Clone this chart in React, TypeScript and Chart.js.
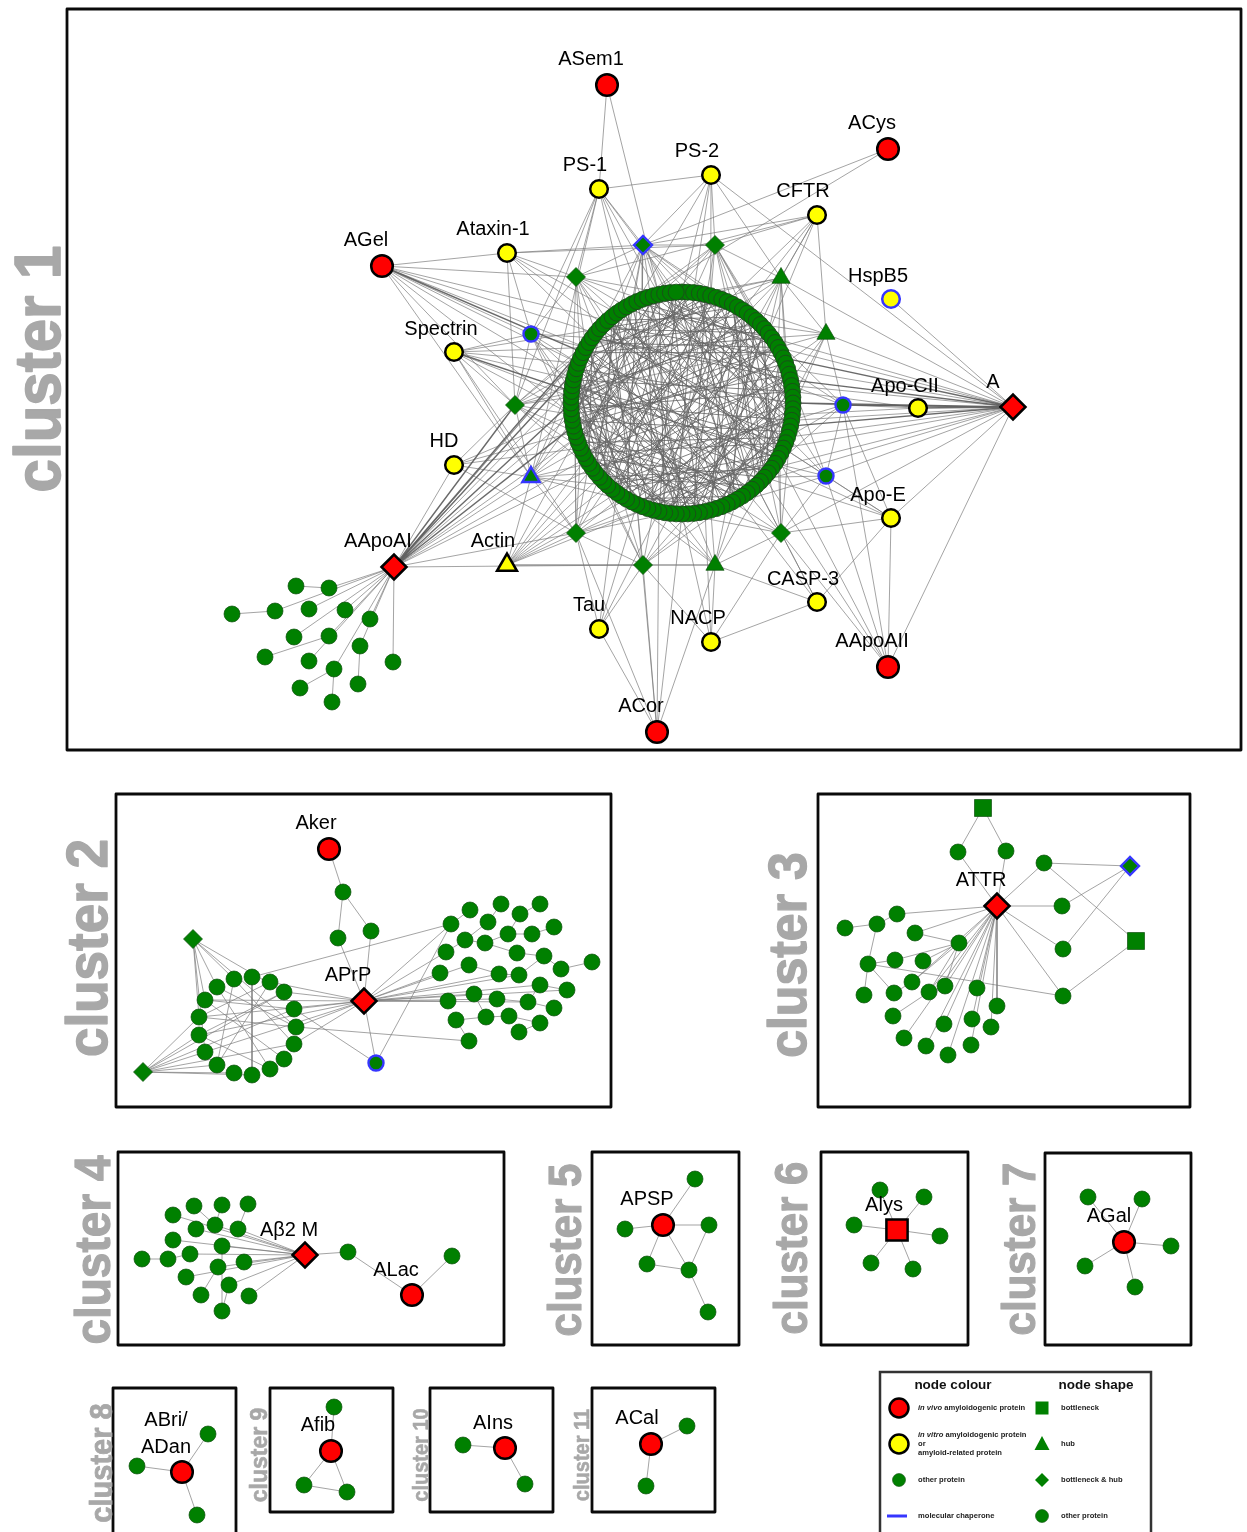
import React, { useEffect, useRef } from 'react';
import { Chart, registerables } from 'chart.js';

Chart.register(...registerables);

const PAGE_W = 1247;
const PAGE_H = 1532;

type NodeRow = [string, number, number, string];
type Fan = [string, (string | number)[]];
type Label = [string, number, number];

// ================= cluster 1 =================
// green ring (Cytoscape circular layout): node count, centre, radius
const ringCount = 120;
const ringCenter: [number, number] = [682, 403];
const ringRadius = 111;

const cluster1Nodes: NodeRow[] = [
  ['ASem1', 607, 85, 'vivo'],
  ['ACys', 888, 149, 'vivo'],
  ['AGel', 382, 266, 'vivo'],
  ['AApoAII', 888, 667, 'vivo'],
  ['ACor', 657, 732, 'vivo'],
  ['A', 1013, 407, 'vivoD'],
  ['AApoAI', 394, 567, 'vivoD'],
  ['PS1', 599, 189, 'vitro'],
  ['PS2', 711, 175, 'vitro'],
  ['CFTR', 817, 215, 'vitro'],
  ['Ataxin1', 507, 253, 'vitro'],
  ['HspB5', 891, 299, 'vitroB'],
  ['Spectrin', 454, 352, 'vitro'],
  ['ApoCII', 918, 408, 'vitro'],
  ['HD', 454, 465, 'vitro'],
  ['ApoE', 891, 518, 'vitro'],
  ['CASP3', 817, 602, 'vitro'],
  ['Tau', 599, 629, 'vitro'],
  ['NACP', 711, 642, 'vitro'],
  ['Actin', 507, 565, 'vitroT'],
  ['d1', 643, 245, 'gDB'],
  ['d2', 715, 245, 'gD'],
  ['d3', 576, 277, 'gD'],
  ['t1', 781, 278, 'gT'],
  ['c1', 531, 334, 'gB'],
  ['t2', 826, 334, 'gT'],
  ['d4', 515, 405, 'gD'],
  ['c2', 843, 405, 'gB'],
  ['t3', 531, 477, 'gTB'],
  ['c3', 826, 476, 'gB'],
  ['d5', 576, 533, 'gD'],
  ['d6', 781, 533, 'gD'],
  ['d7', 643, 565, 'gD'],
  ['t4', 715, 565, 'gT'],
  ['b1', 296, 586, 'g'],
  ['b2', 329, 588, 'g'],
  ['b3', 232, 614, 'g'],
  ['b4', 275, 611, 'g'],
  ['b5', 309, 609, 'g'],
  ['b6', 345, 610, 'g'],
  ['b7', 370, 619, 'g'],
  ['b8', 294, 637, 'g'],
  ['b9', 329, 636, 'g'],
  ['b10', 360, 646, 'g'],
  ['b11', 265, 657, 'g'],
  ['b12', 309, 661, 'g'],
  ['b13', 334, 669, 'g'],
  ['b14', 393, 662, 'g'],
  ['b15', 300, 688, 'g'],
  ['b16', 358, 684, 'g'],
  ['b17', 332, 702, 'g'],
];

// numbers = index of a ring node
const cluster1Fans: Fan[] = [
  ['ASem1', ['PS1', 116]],
  ['ACys', ['d1', 110]],
  ['AGel', ['Ataxin1', 'd3', 'c1', 'd4', 't3', 97, 100, 103, 106, 94, 88]],
  ['PS1', ['PS2', 'd1', 'd3', 'c1', 'd4', 't3', 110, 113, 116, 119]],
  ['PS2', ['d1', 'd2', 't1', 'A', 0, 2, 5, 112]],
  ['CFTR', ['d2', 't1', 't2', 'd1', 'd3', 8, 11, 14, 17]],
  ['Ataxin1', ['d1', 'd2', 'd3', 'c1', 'd4', 102, 105, 108]],
  ['HspB5', ['A']],
  ['Spectrin', ['c1', 'd4', 't3', 'd5', 88, 91, 94, 97, 100, 104]],
  ['ApoCII', ['c2', 28, 32]],
  ['HD', ['t3', 'd4', 'd5', 82, 85, 88]],
  ['ApoE', ['c3', 'A', 'AApoAII', 'd6', 'c2', 'CASP3', 38, 41, 44]],
  ['CASP3', ['d6', 't4', 'NACP', 46, 50]],
  ['Tau', ['d5', 'd7', 64, 68, 72]],
  ['NACP', ['t4', 'd7', 'd6', 56, 60]],
  ['AApoAII', ['c3', 'A', 'd6', 'c2', 40, 44]],
  ['ACor', ['d7', 'd5', 't4', 'Tau', 60, 64, 68]],
  ['AApoAI', ['t3', 'd5', 'd7', 'HD', 78, 80, 84, 88, 93, 100, 108]],
  ['AApoAI', ['b2', 'b4', 'b5', 'b6', 'b7', 'b8', 'b9', 'b10', 'b12', 'b13', 'b14']],
  ['b1', ['b2']], ['b3', ['b4']], ['b11', ['b9']], ['b15', ['b13']], ['b16', ['b10']], ['b17', ['b13']],
  ['Actin', ['d5', 't3', 'd7', 't4', 66, 70, 72, 74, 76, 78, 80, 84]],
  ['A', ['c2', 't2', 'c3', 'd6', 't1', 24, 27, 33, 36, 38, 42, 20, 18, 45]],
  ['d1', ['d2', 'd3', 108, 111, 113, 116, 118, 1, 3, 6, 9, 95, 60, 45, 75]],
  ['d2', ['t1', 112, 116, 119, 2, 5, 8, 11, 14, 18, 25, 40, 62]],
  ['d3', ['c1', 100, 103, 105, 108, 110, 113, 117, 90, 80, 50]],
  ['t1', ['t2', 4, 7, 10, 12, 15, 17, 20, 24, 110, 35]],
  ['c1', ['d4', 92, 95, 97, 100, 102, 85, 70]],
  ['t2', ['c2', 15, 18, 20, 23, 26, 29, 8, 45]],
  ['d4', ['t3', 82, 85, 88, 91, 93, 96, 100, 70, 110, 20]],
  ['c2', ['c3', 24, 27, 30, 33, 36, 15, 50]],
  ['t3', ['d5', 74, 77, 79, 82, 84, 87, 90, 60, 100]],
  ['c3', ['d6', 33, 36, 38, 41, 44, 25, 55]],
  ['d5', ['d7', 66, 68, 71, 74, 76, 79, 82, 85, 50, 95]],
  ['d6', ['t4', 40, 43, 46, 48, 51, 54, 30, 60, 20]],
  ['d7', ['t4', 56, 59, 62, 65, 68, 71, 75, 45, 85]],
  ['t4', [50, 52, 55, 58, 61, 64, 40, 70]],
];

const cluster1HeavyFans: Fan[] = [
  ['A', ['ApoCII', 30, 26, 34, 22, 'c2']],
  ['AApoAI', ['d4', 90, 96, 86, 104]],
  ['AGel', [99]],
  ['Spectrin', [92]],
];

// chords inside the ring, as pairs of ring indices
const ringChords: number[] = [
  0, 47, 1, 83, 2, 61, 3, 29, 4, 95, 5, 72, 6, 38, 7, 101, 8, 55, 9, 66,
  10, 88, 11, 34, 12, 79, 13, 106, 14, 52, 15, 91, 16, 43, 17, 70, 18, 110, 19, 58,
  20, 84, 21, 99, 22, 63, 23, 45, 24, 117, 25, 77, 26, 102, 27, 54, 28, 89, 29, 68,
  30, 96, 31, 8, 32, 74, 33, 113, 34, 60, 35, 87, 36, 2, 37, 81, 38, 104, 39, 66,
  40, 93, 41, 15, 42, 76, 43, 118, 44, 57, 45, 98, 46, 21, 47, 85, 48, 109, 49, 70,
  50, 92, 51, 11, 52, 80, 53, 114, 54, 97, 55, 31, 56, 88, 57, 103, 58, 6, 59, 79,
  60, 100, 61, 26, 62, 91, 63, 116, 64, 37, 65, 83, 66, 108, 67, 14, 68, 95, 69, 41,
  70, 112, 71, 53, 72, 1, 73, 97, 74, 19, 75, 107, 76, 46, 77, 119, 78, 30, 79, 102,
  80, 12, 81, 59, 82, 115, 83, 36, 84, 4, 85, 62, 86, 23, 87, 111, 88, 48, 89, 9,
  90, 33, 91, 67, 92, 17, 93, 52, 94, 28, 95, 75, 96, 40, 97, 5, 98, 64, 99, 18,
  100, 44, 101, 71, 102, 25, 103, 58, 104, 10, 105, 86, 106, 35, 107, 69, 108, 3, 109, 50,
  110, 27, 111, 78, 112, 42, 113, 7, 114, 65, 115, 20, 116, 90, 117, 49, 118, 13, 119, 73,
  3, 51, 7, 64, 12, 40, 18, 86, 22, 105, 27, 69, 33, 78, 39, 92, 44, 11, 49, 100,
  56, 16, 61, 110, 67, 32, 72, 94, 82, 49, 87, 20, 93, 6, 99, 56, 105, 39, 111, 59,
  116, 29, 2, 90, 9, 46, 15, 72, 24, 61, 36, 98, 48, 84, 57, 118, 65, 25, 76, 8,
  4, 58, 8, 99, 13, 71, 17, 104, 21, 66, 26, 81, 30, 115, 35, 62, 40, 107, 43, 90,
  47, 3, 51, 96, 55, 10, 59, 112, 63, 28, 68, 5, 73, 41, 77, 108, 81, 22, 86, 54,
  90, 14, 94, 47, 98, 70, 103, 35, 107, 60, 112, 19, 117, 83, 1, 38, 6, 75, 11, 92,
  16, 57, 20, 101, 25, 88, 29, 50, 34, 114, 39, 74, 45, 9, 50, 119, 54, 26, 58, 93,
  62, 12, 67, 105, 71, 31, 75, 116, 80, 44, 84, 2, 89, 61, 93, 37, 97, 78, 101, 15,
  106, 52, 110, 87, 114, 32, 119, 64,
];

const cluster1Labels: Label[] = [
  ['ASem1', 591, 59], ['ACys', 872, 123], ['AGel', 366, 240], ['PS-1', 585, 165],
  ['PS-2', 697, 151], ['CFTR', 803, 191], ['Ataxin-1', 493, 229], ['HspB5', 878, 276],
  ['Spectrin', 441, 329], ['Apo-CII', 905, 386], ['A', 993, 382], ['HD', 444, 441],
  ['Apo-E', 878, 495], ['AApoAI', 378, 541], ['Actin', 493, 541], ['CASP-3', 803, 579],
  ['Tau', 589, 605], ['NACP', 698, 618], ['AApoAII', 872, 641], ['ACor', 641, 706],
];

// ================= cluster 2 =================
const cluster2Nodes: NodeRow[] = [
  ['Aker', 329, 849, 'vivo'],
  ['APrP', 364, 1001, 'vivoD'],
  ['k1', 343, 892, 'g'], ['k2', 338, 938, 'g'], ['k3', 371, 931, 'g'],
  ['q1', 193, 939, 'gD'], ['q2', 143, 1072, 'gD'],
  ['bc', 376, 1063, 'gB'],
];
const cluster2Loop: [number, number][] = [
  [217, 987], [234, 979], [252, 977], [270, 982], [284, 992], [294, 1009], [296, 1027],
  [294, 1044], [284, 1059], [270, 1069], [252, 1075], [234, 1073], [217, 1065], [205, 1052],
  [199, 1035], [199, 1017], [205, 1000],
];
const cluster2Right: [number, number][] = [
  [470, 910], [501, 904], [540, 904], [520, 914], [488, 922], [451, 924], [554, 927],
  [465, 940], [485, 943], [508, 934], [532, 934], [446, 952], [517, 953], [544, 956],
  [469, 965], [440, 973], [499, 974], [519, 975], [561, 969], [592, 962], [540, 985],
  [567, 990], [474, 994], [448, 1001], [497, 999], [528, 1002], [554, 1008], [486, 1017],
  [509, 1016], [456, 1020], [540, 1023], [519, 1032], [469, 1041],
];
const cluster2Fans: Fan[] = [
  ['Aker', ['k1']], ['k1', ['k2', 'k3']], ['k2', ['APrP']], ['k3', ['APrP']],
  ['APrP', ['L3', 'L4', 'L5', 'L6', 'L7', 'L14', 'L15', 'L16', 'L13', 'bc',
    'R15', 'R11', 'R14', 'R22', 'R23', 'R24', 'R25', 'R20', 'R21', 'R16', 'R17', 'R5']],
  ['bc', ['R5', 'L5']],
  ['q1', ['L0', 'L16', 'L15', 'L1', 'L4', 'L6', 'L13']],
  ['q2', ['L13', 'L12', 'L14', 'L15', 'L11', 'L10', 'L5', 'L7', 'L4']],
  ['L2', ['L10', 'R5']], ['L0', ['L9', 'L6']], ['L1', ['L7', 'L12']], ['L16', ['L5', 'L8']],
  ['L15', ['L6', 'L3']], ['L14', ['L4', 'L9']], ['L3', ['L12']], ['L6', ['R32']],
  ['R0', ['R5']], ['R1', ['R4']], ['R4', ['R7']], ['R2', ['R3']], ['R3', ['R9']], ['R9', ['R8']],
  ['R8', ['R7']], ['R7', ['R11']], ['R6', ['R10']], ['R10', ['R9']], ['R12', ['R8']],
  ['R13', ['R12', 'R17']], ['R18', ['R13']], ['R19', ['R18']], ['R17', ['R16']], ['R16', ['R14']],
  ['R21', ['R20']], ['R20', ['R25']], ['R25', ['R24']], ['R26', ['R25']], ['R28', ['R27']],
  ['R27', ['R22']], ['R29', ['R27']], ['R30', ['R28']], ['R31', ['R30']], ['R32', ['R29']],
];
const cluster2Labels: Label[] = [['Aker', 316, 823], ['APrP', 348, 975]];

// ================= cluster 3 =================
const cluster3Nodes: NodeRow[] = [
  ['ATTR', 997, 906, 'vivoD'],
  ['s3a', 983, 808, 'gS'], ['s3b', 1136, 941, 'gS'], ['bd3', 1130, 866, 'gDB'],
  ['u1', 958, 852, 'g'], ['u2', 1006, 851, 'g'], ['u3', 1044, 863, 'g'], ['u4', 1062, 906, 'g'],
  ['u5', 1063, 949, 'g'], ['u6', 1063, 996, 'g'],
  ['v1', 897, 914, 'g'], ['v2', 877, 924, 'g'], ['v3', 845, 928, 'g'], ['v4', 915, 933, 'g'],
  ['v5', 959, 943, 'g'], ['v6', 895, 960, 'g'], ['v7', 923, 961, 'g'], ['v8', 868, 964, 'g'],
  ['v9', 912, 982, 'g'], ['v10', 945, 986, 'g'], ['v11', 929, 992, 'g'], ['v12', 977, 988, 'g'],
  ['v13', 864, 995, 'g'], ['v14', 894, 993, 'g'], ['v15', 997, 1006, 'g'], ['v16', 893, 1016, 'g'],
  ['v17', 944, 1024, 'g'], ['v18', 972, 1019, 'g'], ['v19', 991, 1027, 'g'], ['v20', 904, 1038, 'g'],
  ['v21', 926, 1046, 'g'], ['v22', 971, 1045, 'g'], ['v23', 948, 1055, 'g'],
];
const cluster3Fans: Fan[] = [
  ['s3a', ['u1', 'u2']], ['u1', ['ATTR']], ['u2', ['ATTR']],
  ['ATTR', ['u3', 'u4', 'u5', 'u6', 'v1', 'v4', 'v5', 'v9', 'v10', 'v11', 'v12', 'v15', 'v17',
    'v18', 'v19', 'v20', 'v21', 'v22', 'v23']],
  ['u3', ['bd3', 's3b']], ['u4', ['bd3']], ['u5', ['bd3']], ['u6', ['s3b']],
  ['v2', ['v1', 'v8']], ['v3', ['v2']], ['v4', ['v5']], ['v8', ['v6', 'v13', 'v14', 'u6']],
  ['v5', ['v6', 'v7', 'v9', 'v10', 'v11']], ['v16', ['v11']], ['v14', ['v9']],
];
const cluster3Labels: Label[] = [['ATTR', 981, 880]];

// ================= cluster 4 =================
const cluster4Nodes: NodeRow[] = [
  ['Ab2M', 305, 1255, 'vivoD'], ['ALac', 412, 1295, 'vivo'],
  ['w0', 348, 1252, 'g'], ['w1', 452, 1256, 'g'],
  ['p1', 194, 1206, 'g'], ['p2', 222, 1205, 'g'], ['p3', 248, 1204, 'g'], ['p4', 173, 1215, 'g'],
  ['p5', 196, 1229, 'g'], ['p6', 215, 1225, 'g'], ['p7', 238, 1229, 'g'], ['p8', 173, 1240, 'g'],
  ['p9', 190, 1254, 'g'], ['p10', 222, 1246, 'g'], ['p11', 142, 1259, 'g'], ['p12', 168, 1259, 'g'],
  ['p13', 244, 1262, 'g'], ['p14', 218, 1267, 'g'], ['p15', 186, 1277, 'g'], ['p16', 229, 1285, 'g'],
  ['p17', 201, 1295, 'g'], ['p18', 249, 1296, 'g'], ['p19', 222, 1311, 'g'],
];
const cluster4Fans: Fan[] = [
  ['Ab2M', ['w0', 'p4', 'p5', 'p6', 'p7', 'p8', 'p9', 'p10', 'p13', 'p14', 'p15', 'p16', 'p18']],
  ['w0', ['ALac']], ['ALac', ['w1']], ['p11', ['p12']], ['p12', ['p9']], ['p1', ['p6']],
  ['p2', ['p6']], ['p3', ['p7']], ['p17', ['p14']], ['p19', ['p16', 'p10']],
];
const cluster4Labels: Label[] = [['A\u03b22 M', 289, 1230], ['ALac', 396, 1270]];

// ================= clusters 5 - 11 =================
const smallClusterNodes: NodeRow[] = [
  ['APSP', 663, 1225, 'vivo'], ['e1', 695, 1179, 'g'], ['e2', 625, 1229, 'g'], ['e3', 709, 1225, 'g'],
  ['e4', 647, 1264, 'g'], ['e5', 689, 1270, 'g'], ['e6', 708, 1312, 'g'],
  ['Alys', 897, 1230, 'vivoS'], ['f1', 880, 1190, 'g'], ['f2', 924, 1197, 'g'], ['f3', 854, 1225, 'g'],
  ['f4', 940, 1236, 'g'], ['f5', 871, 1263, 'g'], ['f6', 913, 1269, 'g'],
  ['AGal', 1124, 1242, 'vivo'], ['h1', 1088, 1197, 'g'], ['h2', 1142, 1199, 'g'], ['h3', 1171, 1246, 'g'],
  ['h4', 1085, 1266, 'g'], ['h5', 1135, 1287, 'g'],
  ['ABri', 182, 1472, 'vivo'], ['i1', 208, 1434, 'g'], ['i2', 137, 1466, 'g'], ['i3', 197, 1515, 'g'],
  ['Afib', 331, 1451, 'vivo'], ['j1', 334, 1407, 'g'], ['j2', 304, 1485, 'g'], ['j3', 347, 1492, 'g'],
  ['AIns', 505, 1448, 'vivo'], ['m1', 463, 1445, 'g'], ['m2', 525, 1484, 'g'],
  ['ACal', 651, 1444, 'vivo'], ['n1', 687, 1426, 'g'], ['n2', 646, 1486, 'g'],
];
const smallClusterFans: Fan[] = [
  ['APSP', ['e1', 'e2', 'e3', 'e4', 'e5']], ['e3', ['e5']], ['e4', ['e5']], ['e5', ['e6']],
  ['Alys', ['f1', 'f2', 'f3', 'f4', 'f5', 'f6']],
  ['AGal', ['h1', 'h2', 'h3', 'h4', 'h5']],
  ['ABri', ['i1', 'i2', 'i3']],
  ['Afib', ['j1', 'j2', 'j3']], ['j2', ['j3']],
  ['AIns', ['m1', 'm2']],
  ['ACal', ['n1', 'n2']],
];
const smallClusterLabels: Label[] = [
  ['APSP', 647, 1199], ['Alys', 884, 1205], ['AGal', 1109, 1216], ['ABri/', 166, 1420],
  ['ADan', 166, 1447], ['Afib', 318, 1425], ['AIns', 493, 1423], ['ACal', 637, 1418],
];

// ================= frames, titles, legend text =================
const clusterFrames: [number, number, number, number][] = [
  [67, 9, 1241, 750], [116, 794, 611, 1107], [818, 794, 1190, 1107], [118, 1152, 504, 1345],
  [592, 1152, 739, 1345], [821, 1152, 968, 1345], [1045, 1153, 1191, 1345],
  [113, 1388, 236, 1548], [270, 1388, 393, 1512], [430, 1388, 553, 1512], [592, 1388, 715, 1512],
];
// [text, baseline x, centre y, font size]
const clusterTitles: [string, number, number, number][] = [
  ['cluster 1', 60, 369, 60], ['cluster 2', 107, 948, 53], ['cluster 3', 806, 955, 50],
  ['cluster 4', 110, 1250, 46], ['cluster 5', 581, 1250, 42], ['cluster 6', 807, 1248, 42],
  ['cluster 7', 1035, 1249, 42], ['cluster 8', 112, 1463, 29], ['cluster 9', 267, 1455, 23],
  ['cluster 10', 428, 1455, 20], ['cluster 11', 589, 1455, 20],
];
const legendHeaders = ['node colour', 'node shape'];
const legendColourText = ['amyloidogenic protein', 'amyloidogenic protein', 'other protein', 'molecular chaperone'];
const legendColourItalic = ['in vivo', 'in vitro', '', ''];
const legendShapeText = ['bottleneck', 'hub', 'bottleneck & hub', 'other protein'];

// ================= styles =================
const GREEN = '#008000';
const GREEN_EDGE = '#0d4f0d';
const BLUE = '#3636ff';
const KIND_STYLES: Record<string, { ps: string; r: number; bg: string; bc: string; bw: number }> = {
  gR: { ps: 'circle', r: 8, bg: GREEN, bc: '#1c4a1c', bw: 0.9 },
  g: { ps: 'circle', r: 8, bg: GREEN, bc: GREEN_EDGE, bw: 0.7 },
  gD: { ps: 'rectRot', r: 9.5, bg: GREEN, bc: GREEN_EDGE, bw: 0.7 },
  gT: { ps: 'triangle', r: 10.5, bg: GREEN, bc: GREEN_EDGE, bw: 0.7 },
  gS: { ps: 'rect', r: 12, bg: GREEN, bc: GREEN_EDGE, bw: 0.7 },
  gB: { ps: 'circle', r: 7.5, bg: GREEN, bc: BLUE, bw: 2.4 },
  gDB: { ps: 'rectRot', r: 9, bg: GREEN, bc: BLUE, bw: 2.4 },
  gTB: { ps: 'triangle', r: 10, bg: GREEN, bc: BLUE, bw: 2.4 },
  vitro: { ps: 'circle', r: 8.8, bg: '#ffff00', bc: '#000000', bw: 2.5 },
  vitroB: { ps: 'circle', r: 8.8, bg: '#ffff00', bc: BLUE, bw: 2.5 },
  vitroT: { ps: 'triangle', r: 11.5, bg: '#ffff00', bc: '#000000', bw: 2.5 },
  vivo: { ps: 'circle', r: 10.8, bg: '#ff0000', bc: '#000000', bw: 2.5 },
  vivoD: { ps: 'rectRot', r: 12.5, bg: '#ff0000', bc: '#000000', bw: 2.5 },
  vivoS: { ps: 'rect', r: 15, bg: '#ff0000', bc: '#000000', bw: 2.5 },
};

const LABEL_FONT = '20px "Liberation Sans", Arial, sans-serif';

function buildConfig() {
  const ringNodes: NodeRow[] = [];
  for (let i = 0; i < ringCount; i++) {
    const a = ((-90 + (360 / ringCount) * i) * Math.PI) / 180;
    ringNodes.push([`r${i}`, ringCenter[0] + ringRadius * Math.cos(a), ringCenter[1] + ringRadius * Math.sin(a), 'gR']);
  }
  const loopNodes: NodeRow[] = cluster2Loop.map(([x, y], i) => [`L${i}`, x, y, 'g']);
  const rightNodes: NodeRow[] = cluster2Right.map(([x, y], i) => [`R${i}`, x, y, 'g']);
  const allNodes: NodeRow[] = [
    ...ringNodes, ...cluster1Nodes, ...cluster2Nodes, ...loopNodes, ...rightNodes,
    ...cluster3Nodes, ...cluster4Nodes, ...smallClusterNodes,
  ];
  const pos = new Map<string, { x: number; y: number }>();
  allNodes.forEach(([id, x, y]) => pos.set(id, { x, y }));

  const edgeData = (fans: Fan[]) => {
    const out: { x: number; y: number }[] = [];
    for (const [from, tos] of fans) {
      const a = pos.get(from);
      if (!a) continue;
      for (const t of tos) {
        const b = pos.get(typeof t === 'number' ? `r${t}` : t);
        if (!b) continue;
        out.push({ x: a.x, y: a.y }, { x: b.x, y: b.y }, { x: NaN, y: NaN });
      }
    }
    return out;
  };
  const chordFans: Fan[] = [];
  for (let i = 0; i < ringChords.length; i += 2) chordFans.push([`r${ringChords[i]}`, [ringChords[i + 1]]]);

  const lightEdges = edgeData([
    ...cluster1Fans, ...cluster2Fans, ...cluster3Fans, ...cluster4Fans, ...smallClusterFans,
  ]);
  const chordEdges = edgeData(chordFans);
  const heavyEdges = edgeData(cluster1HeavyFans);

  const datasets: any[] = [
    {
      label: 'edges', data: lightEdges, showLine: true, pointRadius: 0, borderColor: 'rgba(120,120,120,0.85)',
      borderWidth: 0.8, spanGaps: false, order: 100,
    },
    {
      label: 'ring chords', data: chordEdges, showLine: true, pointRadius: 0, borderColor: 'rgba(100,100,100,0.9)',
      borderWidth: 0.9, spanGaps: false, order: 101,
    },
    {
      label: 'heavy edges', data: heavyEdges, showLine: true, pointRadius: 0, borderColor: 'rgba(90,90,90,0.9)',
      borderWidth: 1.4, spanGaps: false, order: 99,
    },
  ];
  Object.keys(KIND_STYLES).forEach((kind, i) => {
    const s = KIND_STYLES[kind];
    const pts = allNodes.filter((n) => n[3] === kind).map((n) => ({ x: n[1], y: n[2] }));
    datasets.push({
      label: kind, data: pts, showLine: false, pointStyle: s.ps, pointRadius: s.r,
      pointBackgroundColor: s.bg, pointBorderColor: s.bc, pointBorderWidth: s.bw, order: 50 - i,
    });
  });

  const allLabels = [
    ...cluster1Labels, ...cluster2Labels, ...cluster3Labels, ...cluster4Labels, ...smallClusterLabels,
  ];

  const decor = {
    id: 'networkDecor',
    beforeDatasetsDraw(chart: any) {
      const { ctx } = chart;
      const sx = chart.scales.x, sy = chart.scales.y;
      const px = (v: number) => sx.getPixelForValue(v);
      const py = (v: number) => sy.getPixelForValue(v);
      ctx.save();
      ctx.strokeStyle = '#0a0a0a';
      ctx.lineWidth = 2.8;
      ctx.lineJoin = 'round';
      clusterFrames.forEach(([x0, y0, x1, y1]) => {
        ctx.strokeRect(px(x0), py(y0), px(x1) - px(x0), py(y1) - py(y0));
      });
      clusterTitles.forEach(([t, bx, cy, size]) => {
        ctx.save();
        ctx.translate(px(bx), py(cy));
        ctx.rotate(-Math.PI / 2);
        ctx.scale(1, 1.08);
        ctx.font = `bold ${size}px "Liberation Sans", Arial, sans-serif`;
        ctx.fillStyle = '#a8a8a8';
        ctx.strokeStyle = '#a8a8a8';
        ctx.lineWidth = size / 40;
        ctx.textAlign = 'center';
        ctx.textBaseline = 'alphabetic';
        ctx.fillText(t, 0, 0);
        ctx.strokeText(t, 0, 0);
        ctx.restore();
      });
      ctx.restore();
    },
    afterDatasetsDraw(chart: any) {
      const { ctx } = chart;
      const sx = chart.scales.x, sy = chart.scales.y;
      const px = (v: number) => sx.getPixelForValue(v);
      const py = (v: number) => sy.getPixelForValue(v);
      ctx.save();
      ctx.font = LABEL_FONT;
      ctx.fillStyle = '#000';
      ctx.textAlign = 'center';
      ctx.textBaseline = 'middle';
      allLabels.forEach(([t, x, y]) => ctx.fillText(t, px(x), py(y)));

      // ---- legend ----
      ctx.strokeStyle = '#333';
      ctx.lineWidth = 2.5;
      ctx.strokeRect(px(880), py(1372), px(1151) - px(880), py(1550) - py(1372));
      ctx.font = 'bold 13.5px "Liberation Sans", Arial, sans-serif';
      ctx.fillStyle = '#111';
      ctx.fillText(legendHeaders[0], px(953), py(1385));
      ctx.fillText(legendHeaders[1], px(1096), py(1385));
      const rows = [1408, 1444, 1480, 1516];
      const circ = (x: number, y: number, r: number, fill: string, stroke: string, lw: number) => {
        ctx.beginPath();
        ctx.arc(px(x), py(y), r, 0, Math.PI * 2);
        ctx.fillStyle = fill;
        ctx.fill();
        if (lw > 0) { ctx.lineWidth = lw; ctx.strokeStyle = stroke; ctx.stroke(); }
      };
      circ(899, rows[0], 9.5, '#ff0000', '#000', 2.5);
      circ(899, rows[1], 9.5, '#ffff00', '#000', 2.5);
      circ(899, rows[2], 6.5, GREEN, GREEN_EDGE, 0.6);
      ctx.strokeStyle = BLUE;
      ctx.lineWidth = 3;
      ctx.beginPath();
      ctx.moveTo(px(887), py(rows[3]));
      ctx.lineTo(px(907), py(rows[3]));
      ctx.stroke();
      ctx.fillStyle = GREEN;
      ctx.fillRect(px(1042) - 6.5, py(rows[0]) - 6.5, 13, 13);
      ctx.beginPath();
      ctx.moveTo(px(1042), py(rows[1]) - 8);
      ctx.lineTo(px(1042) + 7.5, py(rows[1]) + 6);
      ctx.lineTo(px(1042) - 7.5, py(rows[1]) + 6);
      ctx.closePath();
      ctx.fill();
      ctx.beginPath();
      ctx.moveTo(px(1042), py(rows[2]) - 7);
      ctx.lineTo(px(1042) + 7, py(rows[2]));
      ctx.lineTo(px(1042), py(rows[2]) + 7);
      ctx.lineTo(px(1042) - 7, py(rows[2]));
      ctx.closePath();
      ctx.fill();
      circ(1042, rows[3], 6.5, GREEN, GREEN_EDGE, 0.6);
      const small = 'bold 7.6px "Liberation Sans", Arial, sans-serif';
      const smallIt = 'italic bold 7.6px "Liberation Sans", Arial, sans-serif';
      ctx.fillStyle = '#222';
      ctx.textAlign = 'left';
      const colourY = [rows[0], rows[1] - 9, rows[2], rows[3]];
      legendColourText.forEach((t, i) => {
        let x = px(918);
        const y = py(colourY[i]);
        if (legendColourItalic[i]) {
          ctx.font = smallIt;
          ctx.fillText(legendColourItalic[i], x, y);
          x += ctx.measureText(legendColourItalic[i] + ' ').width;
        }
        ctx.font = small;
        ctx.fillText(t, x, y);
      });
      ctx.font = small;
      ctx.fillText('or', px(918), py(rows[1]));
      ctx.fillText('amyloid-related protein', px(918), py(rows[1] + 9));
      legendShapeText.forEach((t, i) => ctx.fillText(t, px(1061), py(rows[i])));
      ctx.restore();
    },
  };

  return {
    type: 'scatter' as const,
    data: { datasets },
    options: {
      responsive: false,
      animation: false as const,
      events: [] as any[],
      layout: { padding: 0, autoPadding: false },
      plugins: { legend: { display: false }, tooltip: { enabled: false } },
      scales: {
        x: { type: 'linear' as const, min: 0, max: PAGE_W, display: false },
        y: { type: 'linear' as const, min: 0, max: PAGE_H, reverse: true, display: false },
      },
    },
    plugins: [decor],
  };
}

export default function App() {
  const ref = useRef<HTMLCanvasElement>(null);
  useEffect(() => {
    const canvas = ref.current;
    if (!canvas) return;
    const chart = new Chart(canvas, buildConfig() as any);
    return () => chart.destroy();
  }, []);
  return (
    <div style={{ position: 'absolute', left: 0, top: 0, width: PAGE_W, height: PAGE_H, background: '#fff', overflow: 'hidden' }}>
      <canvas ref={ref} width={PAGE_W} height={PAGE_H} style={{ display: 'block', width: PAGE_W, height: PAGE_H }} />
    </div>
  );
}
